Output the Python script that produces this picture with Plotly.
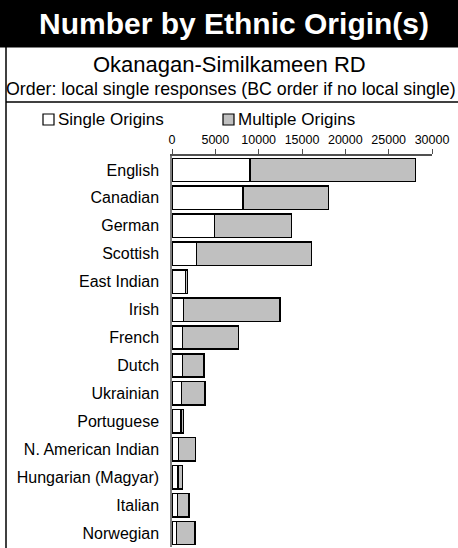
import plotly.graph_objects as go

categories = ["English", "Canadian", "German", "Scottish", "East Indian", "Irish", "French",
              "Dutch", "Ukrainian", "Portuguese", "N. American Indian", "Hungarian (Magyar)",
              "Italian", "Norwegian"]
single_origins = [9000, 8190, 4880, 2810, 1540, 1350, 1230, 1230, 1080, 1040, 730, 690, 620, 500]
multiple_origins = [19070, 9890, 8890, 13270, 230, 11110, 6420, 2460, 2730, 270, 2000, 540, 1340, 2150]
tick_values = [0, 5000, 10000, 15000, 20000, 25000, 30000]
tick_labels = ["0", "5000", "10000", "15000", "20000", "25000", "30000"]

W, H = 458, 548
FONT = "Liberation Sans, Arial, sans-serif"
GRAY = "#c0c0c0"


def px(x):
    return x / W


def py(y):
    return 1 - y / H


fig = go.Figure()
fig.add_trace(go.Bar(
    y=categories, x=single_origins, orientation="h", name="Single Origins",
    marker=dict(color="white", line=dict(color="black", width=1.5)), showlegend=False,
))
fig.add_trace(go.Bar(
    y=categories, x=multiple_origins, orientation="h", name="Multiple Origins",
    marker=dict(color=GRAY, line=dict(color="black", width=1.5)), showlegend=False,
))

shapes = [
    dict(type="rect", xref="paper", yref="paper", x0=0, x1=1, y0=py(47.5), y1=1,
         fillcolor="black", line=dict(width=0), layer="below"),
    dict(type="line", xref="paper", yref="paper", x0=px(6), x1=px(6), y0=py(47), y1=0,
         line=dict(color="black", width=1.5)),
    dict(type="line", xref="paper", yref="paper", x0=px(6), x1=1, y0=py(102), y1=py(102),
         line=dict(color="black", width=1.5)),
    # legend swatches
    dict(type="rect", xref="paper", yref="paper", x0=px(43), x1=px(54), y0=py(125), y1=py(114),
         fillcolor="white", line=dict(color="black", width=1.2)),
    dict(type="rect", xref="paper", yref="paper", x0=px(223), x1=px(234), y0=py(125), y1=py(114),
         fillcolor=GRAY, line=dict(color="black", width=1.2)),
]

annotations = [
    dict(text="<b>Number by Ethnic Origin(s)</b>", x=px(234), y=py(24), xref="paper", yref="paper",
         showarrow=False, font=dict(family=FONT, size=30, color="white"), xanchor="center", yanchor="middle"),
    dict(text="Okanagan-Similkameen RD", x=px(229), y=py(65), xref="paper", yref="paper",
         showarrow=False, font=dict(family=FONT, size=22, color="black"), xanchor="center", yanchor="middle"),
    dict(text="Order: local single responses (BC order if no local single)", x=px(231), y=py(89),
         xref="paper", yref="paper", showarrow=False, font=dict(family=FONT, size=17.8, color="black"),
         xanchor="center", yanchor="middle"),
    dict(text="Single Origins", x=px(56), y=py(120), xref="paper", yref="paper", showarrow=False,
         font=dict(family=FONT, size=17, color="black"), xanchor="left", yanchor="middle"),
    dict(text="Multiple Origins", x=px(236), y=py(120), xref="paper", yref="paper", showarrow=False,
         font=dict(family=FONT, size=17, color="black"), xanchor="left", yanchor="middle"),
]

fig.update_layout(
    template="none",
    width=W, height=H, autosize=False, barmode="stack", bargap=0.165,
    margin=dict(l=0, r=0, t=0, b=0, pad=0, autoexpand=False),
    paper_bgcolor="white", plot_bgcolor="white",
    font=dict(family=FONT, color="black"),
    shapes=shapes, annotations=annotations,
    xaxis=dict(domain=[px(172), px(432)], range=[0, 30000], side="top", automargin=False,
               tickvals=tick_values, ticktext=tick_labels, showgrid=False, zeroline=False,
               showline=True, linecolor="#505050", linewidth=1.5, ticks="outside", ticklen=5,
               tickcolor="#505050", tickfont=dict(size=12.5, family=FONT), fixedrange=True),
    yaxis=dict(domain=[py(547), py(156)], autorange="reversed", automargin=False,
               showgrid=False, zeroline=False,
               showline=True, linecolor="#808080", linewidth=1.5, ticks="",
               ticklabelstandoff=8, tickfont=dict(size=16, family=FONT), fixedrange=True),
)

post = (
    "var h=document.documentElement,b=document.body;"
    "h.style.margin='0';h.style.padding='0';h.style.overflow='hidden';"
    "b.style.margin='0';b.style.padding='0';b.style.overflow='hidden';"
)
fig.write_html("out.html", config={"displayModeBar": False, "responsive": False},
               post_script=post)
